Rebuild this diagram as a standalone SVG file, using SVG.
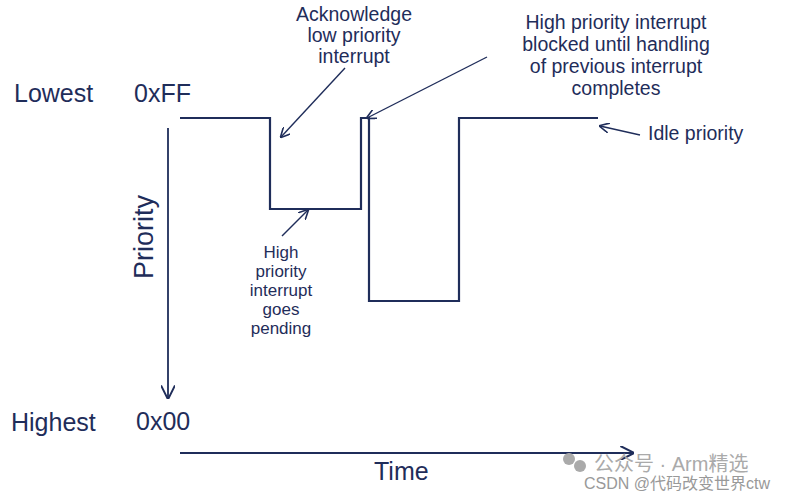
<svg xmlns="http://www.w3.org/2000/svg" width="801" height="496" viewBox="0 0 801 496">
<defs>
<marker id="ah" viewBox="0 0 10 10" refX="9" refY="5" markerWidth="10" markerHeight="10" markerUnits="userSpaceOnUse" orient="auto"><path d="M0,0 L10,5 L0,10" fill="none" stroke="#1f2d5a" stroke-width="1.6"/></marker>
<marker id="ahb" viewBox="0 0 10 10" refX="9" refY="5" markerWidth="14" markerHeight="14" markerUnits="userSpaceOnUse" orient="auto"><path d="M0,0 L10,5 L0,10" fill="none" stroke="#1f2d5a" stroke-width="1.4"/></marker>
<style>
text{font-family:"Liberation Sans",Arial,sans-serif;fill:#1f2d5a}
.s{font-size:19.5px}.l{font-size:25px}.sm{font-size:17px}
.ln{fill:none;stroke:#1f2d5a;stroke-width:2.2}
.ar{fill:none;stroke:#1f2d5a;stroke-width:1.4;marker-end:url(#ah)}
</style>
</defs>
<rect width="801" height="496" fill="#fff"/>
<g id="labels">
<text class="l" x="14" y="102">Lowest</text>
<text class="l" x="134" y="102">0xFF</text>
<text class="l" x="11" y="431">Highest</text>
<text class="l" x="136" y="430">0x00</text>
<text class="l" x="374" y="480">Time</text>
<text class="l" transform="translate(153,237) rotate(-90)" text-anchor="middle" style="font-size:27px">Priority</text>
</g>
<g id="ack"><text class="s" text-anchor="middle"><tspan x="354" y="21">Acknowledge</tspan><tspan x="354" y="42">low priority</tspan><tspan x="354" y="63">interrupt</tspan></text></g>
<g id="blocked"><text class="s" text-anchor="middle"><tspan x="616" y="29">High priority interrupt</tspan><tspan x="616" y="51">blocked until handling</tspan><tspan x="616" y="73">of previous interrupt</tspan><tspan x="616" y="95">completes</tspan></text></g>
<g id="idle"><text class="s" x="648" y="140">Idle priority</text></g>
<g id="pending"><text class="sm" text-anchor="middle"><tspan x="281" y="258">High</tspan><tspan x="281" y="277">priority</tspan><tspan x="281" y="296">interrupt</tspan><tspan x="281" y="315">goes</tspan><tspan x="281" y="334">pending</tspan></text></g>
<g id="connectors">
<path class="ln" d="M180,118 H270 V209 H361 V118 H369 V301 H459 V118 H598"/>
<path class="ln" d="M168,128 V398" style="stroke-width:1.8;marker-end:url(#ahb)"/>
<path class="ln" d="M180,453 H633" style="stroke-width:1.8;marker-end:url(#ahb)"/>
<path class="ar" d="M345,68 L281,137"/>
<path class="ar" d="M487,57 L367,118"/>
<path class="ar" d="M282,236 L308,210"/>
<path class="ar" d="M640,135 L600,126"/>
</g>
<g id="watermark">
<circle cx="569" cy="459" r="6" fill="#aaa"/><circle cx="580" cy="466" r="6" fill="#aaa"/>
<text x="594" y="471" style="font-size:20px;fill:#aaa;font-family:'Liberation Sans','Noto Sans CJK SC',sans-serif">公众号 · Arm精选</text>
<text x="584" y="489" style="font-size:16px;fill:#999;font-family:'Liberation Sans','Noto Sans CJK SC',sans-serif">CSDN @代码改变世界ctw</text>
</g>
</svg>
